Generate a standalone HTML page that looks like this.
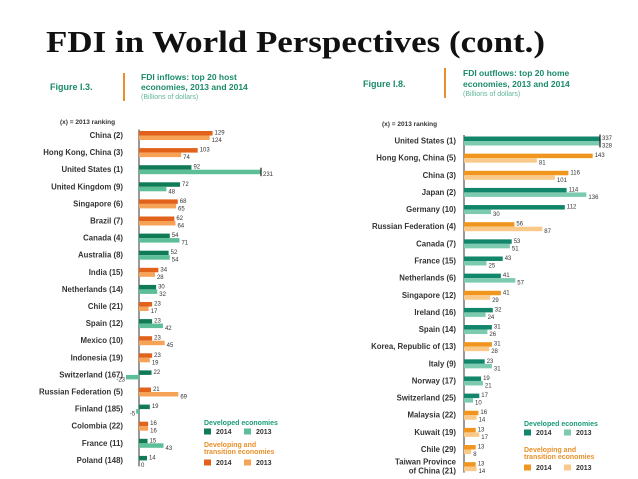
<!DOCTYPE html>
<html><head><meta charset="utf-8"><style>
html,body{margin:0;padding:0;background:#fff;}
svg{display:block;font-family:"Liberation Sans",sans-serif;}
</style></head><body>
<svg id="s" width="638" height="479" viewBox="0 0 638 479" xmlns="http://www.w3.org/2000/svg">
<text x="46" y="52" font-family="Liberation Serif,serif" font-weight="bold" font-size="31" textLength="499" lengthAdjust="spacingAndGlyphs" fill="#111">FDI in World Perspectives (cont.)</text>
<g>
<text x="50" y="90" font-size="9" font-weight="bold" fill="#1a8a6a">Figure I.3.</text>
<rect x="123" y="73" width="2" height="28" fill="#e8902a"/>
<text x="141" y="80" font-size="8.5" font-weight="bold" fill="#1a8a6a">FDI inflows: top 20 host</text>
<text x="141" y="90" font-size="8.5" font-weight="bold" fill="#1a8a6a">economies, 2013 and 2014</text>
<text x="141" y="99" font-size="7" fill="#5fb598">(Billions of dollars)</text>
<text x="60" y="124" font-size="6.5" font-weight="bold" fill="#333">(x) = 2013 ranking</text>
</g>
<g>
<text x="363" y="87" font-size="9" font-weight="bold" fill="#1a8a6a">Figure I.8.</text>
<rect x="444" y="68" width="2" height="30" fill="#e8902a"/>
<text x="463" y="76" font-size="8.5" font-weight="bold" fill="#1a8a6a">FDI outflows: top 20 home</text>
<text x="463" y="87" font-size="8.5" font-weight="bold" fill="#1a8a6a">economies, 2013 and 2014</text>
<text x="463" y="96" font-size="7" fill="#5fb598">(Billions of dollars)</text>
<text x="382" y="126" font-size="6.5" font-weight="bold" fill="#333">(x) = 2013 ranking</text>
</g>
<g id="left"></g>
<g id="right"></g>
<g id="legends"></g>
</svg>
<script>
const inCats=["China (2)","Hong Kong, China (3)","United States (1)","United Kingdom (9)","Singapore (6)","Brazil (7)","Canada (4)","Australia (8)","India (15)","Netherlands (14)","Chile (21)","Spain (12)","Mexico (10)","Indonesia (19)","Switzerland (167)","Russian Federation (5)","Finland (185)","Colombia (22)","France (11)","Poland (148)"];
const in2014=[129,103,92,72,68,62,54,52,34,30,23,23,23,23,22,21,19,16,15,14];
const in2013=[124,74,231,48,65,64,71,54,28,32,17,42,45,19,-23,69,-5,16,43,0];
const inDeveloped=[0,0,1,1,0,0,1,1,0,1,0,1,0,0,1,0,1,0,1,1];
const outCats=["United States (1)","Hong Kong, China (5)","China (3)","Japan (2)","Germany (10)","Russian Federation (4)","Canada (7)","France (15)","Netherlands (6)","Singapore (12)","Ireland (16)","Spain (14)","Korea, Republic of (13)","Italy (9)","Norway (17)","Switzerland (25)","Malaysia (22)","Kuwait (19)","Chile (29)","Taiwan Province of China (21)"];
const out2014=[337,143,116,114,112,56,53,43,41,41,32,31,31,23,19,17,16,13,13,13];
const out2013=[328,81,101,136,30,87,51,25,57,29,24,26,28,31,21,10,14,17,8,14];
const outDeveloped=[1,0,0,1,1,0,1,1,1,0,1,1,0,1,1,1,0,0,0,0];

const NS="http://www.w3.org/2000/svg";
function mk(tag,attrs,parent,txt){const e=document.createElementNS(NS,tag);for(const k in attrs)e.setAttribute(k,attrs[k]);if(txt!==undefined)e.textContent=txt;parent.appendChild(e);return e;}

function drawChart(g,cats,v14,v13,dev,cfg){
  const xs=v=>Math.max(-cfg.maxNeg,Math.min(cfg.cap,v*cfg.scale));
  const yc=i=>cfg.y0+i*cfg.pitch;
  const axis=mk('line',{x1:cfg.ax,x2:cfg.ax,y1:yc(0)-6,y2:yc(cats.length-1)+6,stroke:'#333','stroke-width':1},g);
  
  
  cats.forEach((c,i)=>{
    const y=yc(i);
    const cols=dev[i]?cfg.green:cfg.orange;
    const parts=c.startsWith("Taiwan")?["Taiwan Province","of China (21)"]:[c];
    parts.forEach((p,k)=>{
      const t=mk('text',{x:cfg.lx,y:y+2.5+(parts.length>1?(k-0.5)*9:0),'font-size':cfg.fs,'font-weight':'bold',fill:'#333','text-anchor':'end'},g,p);
      
      
    });
    [[v14[i],cols[0],y-4.5,'bar-2014'],[v13[i],cols[1],y,'bar-2013']].forEach(([v,col,by,nm])=>{
      const w=xs(v);
      const r=mk('rect',{x:w>=0?cfg.ax:cfg.ax+w,y:by,width:Math.abs(w),height:4.5,fill:col},g);
      
      
      if(v*cfg.scale>cfg.cap){const tk=mk('line',{x1:cfg.ax+w,x2:cfg.ax+w,y1:by-2,y2:by+6.5,stroke:'#222','stroke-width':1.2},g);}
      const lbl=mk('text',{x:w>=0?cfg.ax+w+2:cfg.ax+w-1,y:by+(nm==='bar-2014'?3.5:6.5),'font-size':6,fill:'#333','text-anchor':w>=0?'start':'end'},g,String(v));
      
      
    });
  });
}
drawChart(document.getElementById('left'),inCats,in2014,in2013,inDeveloped,{ax:139,lx:123,y0:135.5,pitch:17.1,scale:0.57,cap:122,maxNeg:13,fs:7.8,green:['#117a57','#5cbf98'],orange:['#e2621c','#f6a357']});
drawChart(document.getElementById('right'),outCats,out2014,out2013,outDeveloped,{ax:464,lx:456,y0:141,pitch:17.14,scale:0.9,cap:136,maxNeg:10,fs:7.8,green:['#12866a','#7ccbb0'],orange:['#f0961e','#f9c98a']});

function legend(x,y,green,orange,twoLine){
  const g=document.getElementById('legends');
  const t1=mk('text',{x:x,y:y,'font-size':7,'font-weight':'bold',fill:'#1a9a78'},g,'Developed economies');
  
  const rows=[[y+9,green,'developed'],[y+twoLine+9,orange,'developing']];
  const t2=mk('text',{x:x,y:y+twoLine-9,'font-size':7,'font-weight':'bold',fill:'#e8902a'},g,'Developing and');
  
  const t3=mk('text',{x:x,y:y+twoLine-2,'font-size':7,'font-weight':'bold',fill:'#e8902a'},g,'transition economies');
  
  rows.forEach(([ry,cols,nm])=>{
    [[0,'2014'],[1,'2013']].forEach(([k,lab])=>{
      const sq=mk('rect',{x:x+k*40,y:ry-5.5,width:7,height:6,fill:cols[k]},g);
      
      const tt=mk('text',{x:x+k*40+12,y:ry,'font-size':7,'font-weight':'bold',fill:'#333'},g,lab);
      
    });
  });
}
legend(204,425,['#117a57','#5cbf98'],['#e2621c','#f6a357'],31);
legend(524,426,['#12866a','#7ccbb0'],['#f0961e','#f9c98a'],35);
</script>
</body></html>
